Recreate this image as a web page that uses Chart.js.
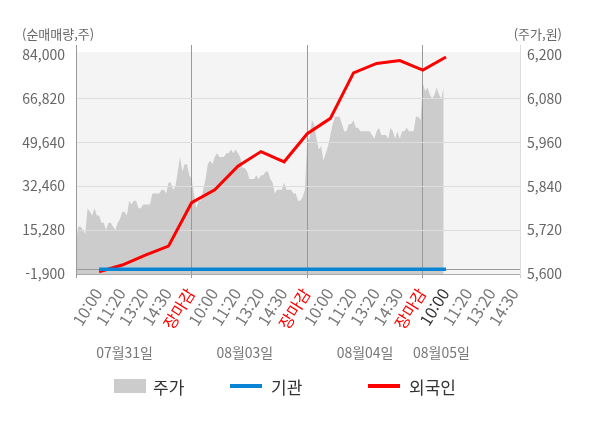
<!DOCTYPE html>
<html lang="ko">
<head>
<meta charset="utf-8">
<title>순매매량 차트</title>
<script src="https://cdn.jsdelivr.net/npm/chart.js@4.4.1/dist/chart.umd.min.js"></script>
<style>
  body { margin: 0; background: #fff; }
  #wrap { position: relative; width: 600px; height: 428px; font-family: "Noto Sans CJK KR", sans-serif; }
  #plotBg { position: absolute; background: #f4f4f4; }
  #chartCanvas { position: absolute; left: 0; top: 0; }
  #legend ul { list-style: none; margin: 0; padding: 0; }
  #legend li { position: absolute; top: 376px; height: 20px; display: flex; align-items: center; font-size: 17px; color: #333; }
  #legend .box { width: 32px; height: 14px; margin-right: 7px; }
  #legend .line { width: 32px; height: 4px; margin-right: 9px; }
</style>
</head>
<body>
<div id="wrap">
  <div id="plotBg"></div>
  <canvas id="chartCanvas" width="600" height="428"></canvas>
  <div id="legend"></div>
</div>
<script>
const FONT = '"Noto Sans CJK KR", sans-serif';

// x axis: 50 slots per trading day, a time label every 10 slots
const SLOTS_PER_DAY = 50;
const LABEL_STEP = 10;
const AXIS_SLOTS = 192;

const days = ['07월31일', '08월03일', '08월04일', '08월05일'];
const timeLabels = ['10:00', '11:20', '13:20', '14:30', '장마감'];

// left axis (순매매량) and right axis (주가) ticks
const volumeTicks = [-1900, 15280, 32460, 49640, 66820, 84000];
const priceTicks = [5600, 5720, 5840, 5960, 6080, 6200];

// 주가, one value per slot
const price = [
  5690, 5730, 5730, 5720, 5710, 5780, 5770, 5760, 5780, 5760,
  5760, 5740, 5740, 5720, 5740, 5740, 5730, 5720, 5740, 5750,
  5770, 5770, 5760, 5800, 5790, 5800, 5800, 5780, 5780, 5790,
  5790, 5790, 5790, 5820, 5820, 5820, 5820, 5830, 5830, 5820,
  5850, 5850, 5830, 5840, 5880, 5920, 5880, 5900, 5900, 5870,
  5860, 5820, 5780, 5800, 5800, 5830, 5860, 5900, 5910, 5900,
  5920, 5930, 5920, 5920, 5920, 5930, 5930, 5940, 5930, 5940,
  5930, 5920, 5890, 5890, 5880, 5860, 5860, 5860, 5870, 5860,
  5870, 5870, 5880, 5880, 5860, 5850, 5820, 5830, 5830, 5830,
  5850, 5830, 5830, 5830, 5820, 5820, 5800, 5800, 5810, 5830,
  5970, 5970, 6020, 6010, 5970, 5940, 5950, 5910, 5930, 5950,
  5980, 6010, 6030, 6030, 6030, 6010, 5990, 5990, 6010, 6010,
  6020, 6000, 6000, 5990, 5990, 5990, 5990, 5990, 5980, 5970,
  5990, 6000, 5980, 5980, 5980, 5970, 6000, 5990, 5970, 5990,
  5970, 5990, 5990, 6000, 5990, 5990, 5990, 6030, 6030, 6020,
  6120, 6100, 6110, 6090, 6080, 6090, 6110, 6090, 6080, 6110
];

// 외국인 / 기관 cumulative net buying, one value per time label (from 07/31 10:00)
const foreign = [-1000, 1600, 5500, 9000, 26000, 31000, 40300, 46000, 42000, 53000, 59000, 76800, 80500, 81600, 77900, 83000];
const institution = [0, 0, 0, 0, 0, 0, 0, 0, 0, 0, 0, 0, 0, 0, 0, 0];

const priceData = price.map((v, i) => ({ x: i, y: v }));
const foreignData = foreign.map((v, i) => ({ x: (i + 1) * LABEL_STEP, y: v }));
const institutionData = institution.map((v, i) => ({ x: (i + 1) * LABEL_STEP, y: v }));

const xTickValues = [];
for (let v = 0; v < AXIS_SLOTS; v += LABEL_STEP) xTickValues.push(v);
xTickValues.push(AXIS_SLOTS);

const timeLabelFor = function (value) {
    if (value <= 0 || value >= AXIS_SLOTS || value % LABEL_STEP) return '';
    const inDay = value % SLOTS_PER_DAY;
    if (inDay === 0) return timeLabels[timeLabels.length - 1];
    return timeLabels[inDay / LABEL_STEP - 1];
};

// last drawn time (08/05 10:00) gets the dark label
const lastSlot = foreign.length * LABEL_STEP;

const htmlLegendPlugin = {
    id: 'htmlLegend',
    afterUpdate(chart, args, options) {
        const holder = document.getElementById(options.containerID);
        let ul = holder.querySelector('ul');
        if (!ul) {
            ul = document.createElement('ul');
            holder.appendChild(ul);
        }
        while (ul.firstChild) ul.firstChild.remove();
        chart.data.datasets.forEach((ds, i) => {
            const li = document.createElement('li');
            li.style.left = options.lefts[i] + 'px';
            const mark = document.createElement('span');
            if (ds.fill) {
                mark.className = 'box';
                mark.style.background = ds.backgroundColor;
            } else {
                mark.className = 'line';
                mark.style.background = ds.borderColor;
            }
            li.appendChild(mark);
            li.appendChild(document.createTextNode(ds.label));
            ul.appendChild(li);
        });
    }
};

// plot background sits behind the (transparent) canvas
const plotBgPlugin = {
    id: 'plotBg',
    afterLayout(chart) {
        const a = chart.chartArea;
        const top = chart.scales.y.getPixelForValue(volumeTicks[volumeTicks.length - 1]) - 2.5;
        const bg = document.getElementById('plotBg');
        bg.style.left = a.left + 'px';
        bg.style.top = top + 'px';
        bg.style.width = (a.right - a.left) + 'px';
        bg.style.height = (a.bottom - top) + 'px';
    }
};

const textPlugin = {
    id: 'extraText',
    afterDraw(chart, args, options) {
        const ctx = chart.ctx;
        ctx.save();
        ctx.font = '13px ' + FONT;
        ctx.fillStyle = '#666';
        ctx.textBaseline = 'middle';
        ctx.textAlign = 'left';
        ctx.fillText('(순매매량,주)', 22, 34);
        ctx.textAlign = 'right';
        ctx.fillText('(주가,원)', 562, 34);

        ctx.font = '14px ' + FONT;
        ctx.fillStyle = '#777';
        ctx.textAlign = 'center';
        days.forEach((d, i) => {
            ctx.fillText(d, chart.scales.x.getPixelForValue(options.dayAt[i]), 353);
        });
        ctx.restore();
    }
};

new Chart(document.getElementById('chartCanvas'), {
    type: 'line',
    data: {
        datasets: [
            {
                label: '주가',
                data: priceData,
                yAxisID: 'y2',
                fill: 'start',
                backgroundColor: '#cccccc',
                borderWidth: 0,
                pointRadius: 0,
                order: 3
            },
            {
                label: '기관',
                data: institutionData,
                yAxisID: 'y',
                fill: false,
                borderColor: '#0a85d5',
                borderWidth: 3.5,
                pointRadius: 0,
                order: 1
            },
            {
                label: '외국인',
                data: foreignData,
                yAxisID: 'y',
                fill: false,
                borderColor: '#ff0000',
                borderWidth: 3,
                pointRadius: 0,
                order: 2
            }
        ]
    },
    options: {
        responsive: false,
        animation: false,
        layout: { padding: { top: 45, left: 0, right: 0, bottom: 0 } },
        scales: {
            x: {
                type: 'linear',
                min: 0,
                max: AXIS_SLOTS,
                afterBuildTicks: function (scale) {
                    scale.ticks = xTickValues.map(v => ({ value: v }));
                },
                afterFit: function (scale) { scale.height = 154; },
                border: { color: '#aaa' },
                grid: {
                    tickLength: 4,
                    color: function (ctx) {
                        const v = ctx.tick ? ctx.tick.value : -1;
                        if (v % SLOTS_PER_DAY === 0) return '#999';
                        if (v === AXIS_SLOTS) return '#ccc';
                        return 'rgba(0,0,0,0)';
                    }
                },
                ticks: {
                    autoSkip: false,
                    minRotation: 58,
                    maxRotation: 58,
                    padding: 7,
                    labelOffset: -1,
                    font: { family: FONT, size: 16 },
                    color: function (ctx) {
                        const v = ctx.tick.value;
                        if (v > 0 && v % SLOTS_PER_DAY === 0) return '#ff0000';
                        if (v === lastSlot) return '#333';
                        return '#777';
                    },
                    callback: function (value) { return timeLabelFor(value); }
                }
            },
            y: {
                position: 'left',
                min: -1900,
                max: 87700,
                afterBuildTicks: function (scale) {
                    scale.ticks = [-1900, 0].concat(volumeTicks.slice(1)).map(v => ({ value: v }));
                },
                afterFit: function (scale) { scale.width = 76; },
                border: { color: '#999' },
                grid: {
                    drawTicks: false,
                    color: function (ctx) {
                        const v = ctx.tick ? ctx.tick.value : null;
                        if (v === 0) return '#999';
                        if (v === volumeTicks[0] || v === volumeTicks[volumeTicks.length - 1]) return 'rgba(0,0,0,0)';
                        return '#dddddd';
                    }
                },
                ticks: {
                    padding: 11,
                    font: { family: FONT, size: 14 },
                    color: '#666',
                    callback: function (value) { return value === 0 ? '' : value.toLocaleString('en-US'); }
                }
            },
            y2: {
                position: 'right',
                min: 5600,
                max: 6226,
                afterBuildTicks: function (scale) {
                    scale.ticks = priceTicks.map(v => ({ value: v }));
                },
                afterFit: function (scale) { scale.width = 80; },
                border: { color: '#ddd' },
                grid: { display: false, drawTicks: false },
                ticks: {
                    padding: 7,
                    font: { family: FONT, size: 14 },
                    color: '#666',
                    callback: function (value) { return value.toLocaleString('en-US'); }
                }
            }
        },
        plugins: {
            legend: { display: false },
            tooltip: { enabled: false },
            filler: { drawTime: 'beforeDraw' },
            htmlLegend: { containerID: 'legend', lefts: [114, 230, 368] },
            extraText: { dayAt: [21, 73, 125, 158] }
        }
    },
    plugins: [plotBgPlugin, htmlLegendPlugin, textPlugin]
});
</script>
</body>
</html>
